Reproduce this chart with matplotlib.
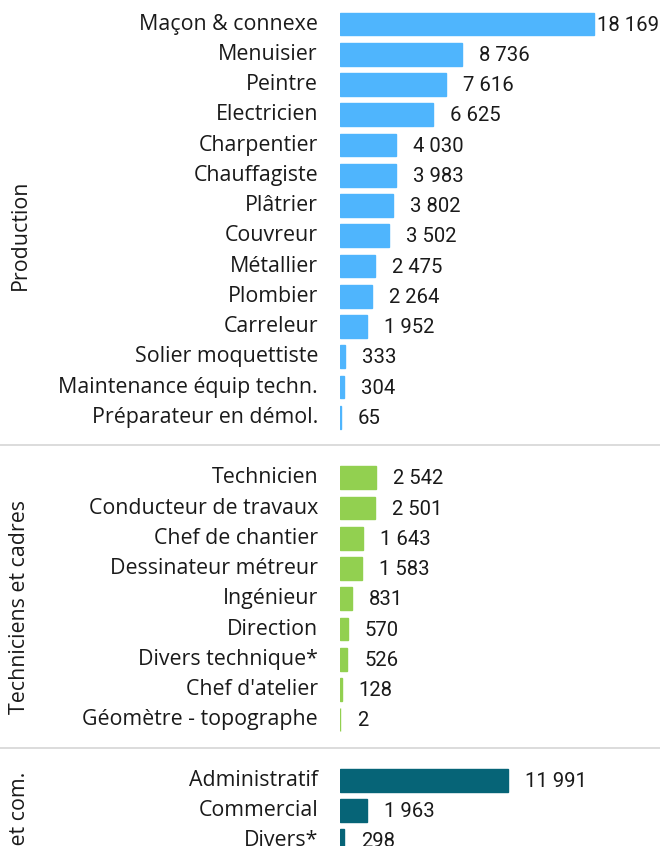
import matplotlib
matplotlib.use("Agg")
import matplotlib.pyplot as plt
import matplotlib.transforms as mtransforms
from matplotlib.lines import Line2D

# ---- data ----
groups = ["Production", "Techniciens et cadres", "Administratif et com."]
prod_labels = ["Maçon & connexe", "Menuisier", "Peintre", "Electricien", "Charpentier",
               "Chauffagiste", "Plâtrier", "Couvreur", "Métallier", "Plombier", "Carreleur",
               "Solier moquettiste", "Maintenance équip techn.", "Préparateur en démol."]
prod_values = [18169, 8736, 7616, 6625, 4030, 3983, 3802, 3502, 2475, 2264, 1952, 333, 304, 65]
tech_labels = ["Technicien", "Conducteur de travaux", "Chef de chantier", "Dessinateur métreur",
               "Ingénieur", "Direction", "Divers technique*", "Chef d'atelier", "Géomètre - topographe"]
tech_values = [2542, 2501, 1643, 1583, 831, 570, 526, 128, 2]
admin_labels = ["Administratif", "Commercial", "Divers*"]
admin_values = [11991, 1963, 298]

colors = ["#4FB5FD", "#92D050", "#066477"]

W, H = 660, 846
fig = plt.figure(figsize=(W / 100, H / 100), dpi=100)

row_h = 30.25
top_px = 24.0
ax_left, ax_right = 340, 660
ax = fig.add_axes([ax_left / W, 0, (ax_right - ax_left) / W, 1])
px_per_unit = 254 / 18169
ax.set_xlim(0, (ax_right - ax_left) / px_per_unit)
ax.set_ylim((H - top_px) / row_h, -top_px / row_h)
ax.axis("off")

label_font = dict(family=["Open Sans", "DejaVu Sans"], fontsize=15.4, color="#1a1a1a")
value_font = dict(family=["Roboto", "DejaVu Sans"], fontsize=14.6, color="#1a1a1a")

all_sets = [(prod_labels, prod_values), (tech_labels, tech_values), (admin_labels, admin_values)]

pos = 0
seps = []
value_texts = []
for gi, (labs, vals) in enumerate(all_sets):
    ys = list(range(pos, pos + len(vals)))
    ax.barh(ys, vals, height=0.75, color=colors[gi], edgecolor=colors[gi], linewidth=1.0)
    for y, lab, v in zip(ys, labs, vals):
        ax.annotate(lab, xy=(0, y), xytext=(-22, 0), textcoords="offset pixels",
                    ha="right", va="center", annotation_clip=False, **label_font)
        t = ax.annotate(f"{v:,}".replace(",", " "), xy=(v, y), xytext=(17, -1),
                        textcoords="offset pixels", ha="left", va="center",
                        annotation_clip=False, **value_font)
        value_texts.append(t)
    pos += len(vals)
    seps.append(pos)
    pos += 1

# group labels
trans = mtransforms.blended_transform_factory(fig.transFigure, ax.transData)
fig.text(20 / W, 1 - 235 / H, groups[0], rotation=90, ha="center", va="center", **label_font)
fig.text(20 / W, 1 - 607 / H, groups[1], rotation=90, ha="center", va="center", **label_font)
fig.text(20 / W, 1 - 772 / H, groups[2], rotation=90, ha="center", va="top", **label_font)

# separators
for s in seps[:-1]:
    fig.add_artist(Line2D([0, 1], [s - 0.08, s - 0.08], transform=trans,
                          color="#D9D9D9", linewidth=1.3))

# keep value labels inside the figure
fig.canvas.draw()
r = fig.canvas.get_renderer()
for t in value_texts:
    bb = t.get_window_extent(r)
    if bb.x1 > W - 1:
        t.xyann = (W - 1 - (ax_left + t.xy[0] * px_per_unit), -1)
        t.set_ha("right")

fig.savefig("out.png", dpi=100)
